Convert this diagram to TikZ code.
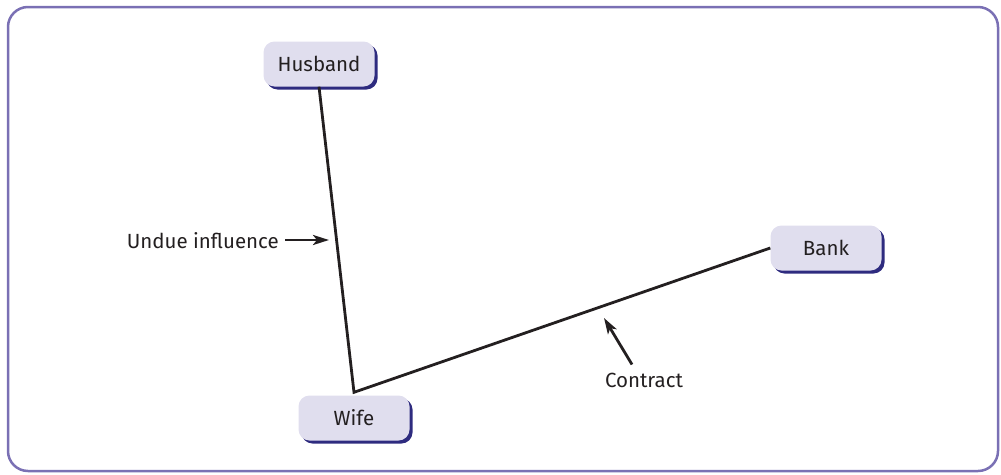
\documentclass[tikz,border=0pt]{standalone}
\usepackage{fontspec}
\setmainfont{Fira Sans}
\usepackage{xcolor}
\definecolor{frame}{HTML}{7A70B4}
\definecolor{boxfill}{HTML}{E0DEEE}
\definecolor{boxshade}{HTML}{2E2B7F}
\definecolor{ink}{HTML}{231F20}
\usetikzlibrary{arrows.meta,positioning,calc,shadows}
\tikzset{
  >={Stealth[length=16pt,width=10pt,inset=4pt]},
  party/.style={rounded corners=11pt,fill=boxfill,minimum width=111pt,minimum height=45pt,
    inner sep=0pt,font=\fontsize{20.5}{22}\selectfont,text=ink,
    general shadow={fill=boxshade,shadow xshift=3pt,shadow yshift=-3pt}},
  lab/.style={font=\fontsize{20.5}{22}\selectfont,text=ink,inner sep=0pt},
  link/.style={draw=ink,line width=2.8pt},
  arr/.style={->,draw=ink,line width=2.8pt},
}
\begin{document}
\begin{tikzpicture}[x=1pt,y=-1pt]
\useasboundingbox (0,0) rectangle (1001,474);
\draw[frame,line width=2.5pt,rounded corners=20pt] (8,7) rectangle (998,471);
% parties
\node[party] (husband) at (319,64) {Husband};
\node[party] (wife) at (354,418) {Wife};
\node[party] (bank) at (826,248) {Bank};
% links
\coordinate (apex) at ($(wife.north)+(0,-3)$);
\draw[link] (husband.south) -- (apex) -- (bank.west);
% labels
\node[lab,anchor=east] (undue) at (279,241) {Undue influence};
\coordinate (undueTip) at (329,240);
\draw[arr] ([xshift=6pt,yshift=1pt]undue.east) -- (undueTip);
\node[lab] (contract) at (644,380) {Contract};
\coordinate (contractTip) at (604,318);
\draw[arr] ([xshift=-12pt,yshift=8pt]contract.north) -- (contractTip);
\end{tikzpicture}
\end{document}
